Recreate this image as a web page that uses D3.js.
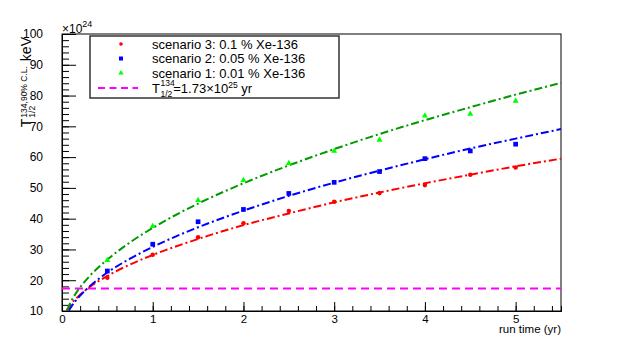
<!DOCTYPE html>
<html>
<head>
<meta charset="utf-8">
<script src="https://cdn.jsdelivr.net/npm/d3@7"></script>
<style>
body { margin: 0; background: #fff; }
svg { font-family: "Liberation Sans", Arial, sans-serif; }
</style>
</head>
<body>
<svg id="svg-main" width="623" height="346"></svg>
<script>
// measured points (x10^24)
var runTime = [0.5, 1, 1.5, 2, 2.5, 3, 3.5, 4, 4.5, 5];
var scen3 = [20.8, 28.3, 34.0, 38.5, 42.5, 45.5, 48.3, 50.9, 54.3, 56.6];
var scen2 = [23.0, 31.7, 39.0, 43.0, 48.2, 51.8, 55.3, 59.5, 62.0, 64.2];
var scen1 = [26.5, 37.5, 46.0, 52.5, 58.0, 62.0, 65.6, 73.4, 74.0, 78.2];

// fitted curves
var fitTime3 = [0.05, 0.1, 0.2, 0.3, 0.5, 0.75, 1, 1.5, 2, 2.5, 3, 3.5, 4, 4.5, 5, 5.5];
var fit3 = [10.1, 12.3, 15.3, 17.7, 21.4, 25.1, 28.2, 33.4, 37.9, 41.7, 45.3, 48.5, 51.5, 54.3, 57.0, 59.5];
var fitTime2 = [0.075, 0.1, 0.2, 0.3, 0.5, 0.75, 1, 1.5, 2, 2.5, 3, 3.5, 4, 4.5, 5, 5.5];
var fit2 = [10.1, 11.3, 15.0, 17.9, 22.5, 27.0, 30.8, 37.2, 42.6, 47.4, 51.7, 55.6, 59.3, 62.8, 66.0, 69.1];
var fitTime1 = [0.055, 0.1, 0.2, 0.3, 0.5, 0.75, 1, 1.5, 2, 2.5, 3, 3.5, 4, 4.5, 5, 5.5];
var fit1 = [10.2, 13.1, 17.7, 21.2, 26.7, 32.3, 37.0, 44.9, 51.5, 57.3, 62.6, 67.5, 72.0, 76.2, 80.3, 84.1];

var halfLife = 17.3;
var xMajor = [0, 1, 2, 3, 4, 5];
var yMajor = [10, 20, 30, 40, 50, 60, 70, 80, 90, 100];

var svg = d3.select("svg");
var padL = 62, padR = 561, padT = 34, padB = 311;

var x = d3.scaleLinear().domain([0, 5.5]).range([padL, padR]);
var y = d3.scaleLinear().domain([10, 100]).range([padB, padT]);

// frame
svg.append("rect")
    .attr("x", padL).attr("y", padT)
    .attr("width", padR - padL).attr("height", padB - padT)
    .attr("fill", "none").attr("stroke", "#000").attr("stroke-width", 1);

var xMinor = d3.range(0, 5.5, 0.2).map(function (d) { return +d.toFixed(1); });
var yMinor = d3.range(10, 100, 2);

var gx = svg.append("g").attr("transform", "translate(0," + padB + ")");
gx.call(d3.axisBottom(x).tickValues(xMinor).tickSize(-5).tickFormat(""));
var gxm = svg.append("g").attr("transform", "translate(0," + padB + ")");
gxm.call(d3.axisBottom(x).tickValues(xMajor).tickSizeInner(-9).tickSizeOuter(0).tickPadding(12).tickFormat(d3.format("d")));

var gy = svg.append("g").attr("transform", "translate(" + padL + ",0)");
gy.call(d3.axisLeft(y).tickValues(yMinor).tickSize(-7).tickFormat(""));
var gym = svg.append("g").attr("transform", "translate(" + padL + ",0)");
gym.call(d3.axisLeft(y).tickValues(yMajor).tickSizeInner(-14).tickSizeOuter(0).tickPadding(19).tickFormat(d3.format("d")));

svg.selectAll(".tick text").attr("font-size", 12).attr("fill", "#000")
    .attr("font-family", "Liberation Sans, Arial, sans-serif");
gxm.selectAll(".tick text").attr("dy", "0").attr("y", 11.5).attr("font-size", 11.5);
svg.selectAll(".domain").attr("stroke", "#000");

// x10^24
var mult = svg.append("text").attr("x", padL).attr("y", 33).attr("font-size", 12);
mult.append("tspan").text("\u00d710");
mult.append("tspan").attr("dy", -6).attr("font-size", 9).text("24");

// x title
svg.append("text").attr("x", padR).attr("y", 333).attr("text-anchor", "end")
    .attr("font-size", 11.5).text("run time (yr)");

// y title
var yt = svg.append("g");
var t0 = yt.append("text").attr("x", 0).attr("y", 0).attr("font-size", 14).text("T");
var tw = t0.node().getComputedTextLength();
var sup = yt.append("text").attr("x", tw + 1).attr("y", -4.5).attr("font-size", 8.5).text("134,90% C.L.");
yt.append("text").attr("x", tw + 1).attr("y", 3.5).attr("font-size", 8.5).text("1/2");
var sw = sup.node().getComputedTextLength();
var kev = yt.append("text").attr("x", tw + sw + 6).attr("y", 0).attr("font-size", 14).text("keV");
var total = tw + sw + 6 + kev.node().getComputedTextLength();
yt.attr("transform", "translate(31," + (37 + total) + ") rotate(-90)");

// half-life line
svg.append("line")
    .attr("x1", x(0)).attr("x2", x(5.5))
    .attr("y1", y(halfLife)).attr("y2", y(halfLife))
    .attr("stroke", "#ff00ff").attr("stroke-width", 2).attr("stroke-dasharray", "8,5");

var line = d3.line()
    .x(function (d) { return x(d[0]); })
    .y(function (d) { return y(d[1]); })
    .curve(d3.curveMonotoneX);

var fits = [
    {t: fitTime3, v: fit3, color: "#ff0000"},
    {t: fitTime2, v: fit2, color: "#0000ff"},
    {t: fitTime1, v: fit1, color: "#009900"}
];
fits.forEach(function (f) {
    svg.append("path")
        .datum(d3.zip(f.t, f.v))
        .attr("d", line)
        .attr("fill", "none")
        .attr("stroke", f.color)
        .attr("stroke-width", 2)
        .attr("stroke-dasharray", "8,3,2,3");
});

// markers
var circle = d3.symbol().type(d3.symbolCircle).size(16);
var square = d3.symbol().type(d3.symbolSquare).size(22);
var tri = d3.symbol().type(d3.symbolTriangle).size(16);
var series = [
    {v: scen3, color: "#ff0000", sym: circle},
    {v: scen2, color: "#0000ff", sym: square},
    {v: scen1, color: "#00ff00", sym: tri}
];
series.forEach(function (s) {
    svg.append("g").selectAll("path")
        .data(d3.zip(runTime, s.v))
        .enter().append("path")
        .attr("d", s.sym)
        .attr("fill", s.color)
        .attr("transform", function (d) { return "translate(" + x(d[0]) + "," + y(d[1]) + ")"; });
});

// legend
var lg = svg.append("g");
lg.append("rect").attr("x", 90).attr("y", 36).attr("width", 249).attr("height", 62)
    .attr("fill", "#fff").attr("stroke", "#333").attr("stroke-width", 1.5);
var labels = ["scenario 3: 0.1 % Xe-136", "scenario 2: 0.05 % Xe-136", "scenario 1: 0.01 % Xe-136"];
var syms = [d3.symbol().type(d3.symbolCircle).size(10), d3.symbol().type(d3.symbolSquare).size(16), d3.symbol().type(d3.symbolTriangle).size(12)];
var cols = ["#ff0000", "#0000ff", "#00ff00"];
var rows = [44, 58.5, 73, 88];
labels.forEach(function (l, i) {
    lg.append("path").attr("d", syms[i]).attr("fill", cols[i])
        .attr("transform", "translate(121," + rows[i] + ")");
    lg.append("text").attr("x", 152).attr("y", rows[i] + 4.5).attr("font-size", 13).text(l);
});
lg.append("line").attr("x1", 98).attr("x2", 138).attr("y1", rows[3]).attr("y2", rows[3])
    .attr("stroke", "#ff00ff").attr("stroke-width", 2).attr("stroke-dasharray", "7,4.5");
var lt = lg.append("g");
var lT = lt.append("text").attr("x", 152).attr("y", rows[3] + 4.5).attr("font-size", 13).text("T");
var lTw = lT.node().getComputedTextLength();
lt.append("text").attr("x", 152 + lTw + 0.5).attr("y", rows[3] - 2).attr("font-size", 8.5).text("134");
var lsub = lt.append("text").attr("x", 152 + lTw + 0.5).attr("y", rows[3] + 8.5).attr("font-size", 8.5).text("1/2");
var lx = 152 + lTw + 0.5 + lsub.node().getComputedTextLength() + 1;
var rest = lt.append("text").attr("x", lx).attr("y", rows[3] + 4.5).attr("font-size", 13);
rest.append("tspan").text("=1.73\u00d710");
rest.append("tspan").attr("dy", -5).attr("font-size", 8.5).text("25");
rest.append("tspan").attr("dy", 5).text(" yr");
</script>
</body>
</html>
